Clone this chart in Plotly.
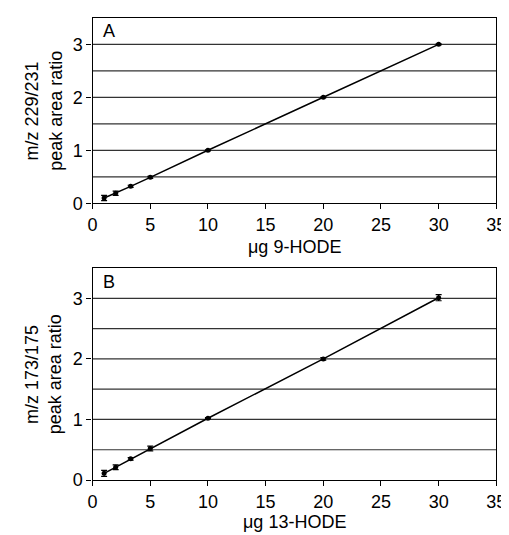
import plotly.graph_objects as go

amounts = [1, 2, 3.3, 5, 10, 20, 30]
ratio_a = [0.10, 0.19, 0.32, 0.49, 1.00, 2.00, 3.00]
err_a = [0.05, 0.04, 0.02, 0.02, 0.01, 0.01, 0.01]
ratio_b = [0.11, 0.21, 0.35, 0.52, 1.02, 2.00, 3.01]
err_b = [0.05, 0.04, 0.02, 0.04, 0.01, 0.02, 0.05]
x_ticks = [0, 5, 10, 15, 20, 25, 30, 35]
y_ticks = [0, 1, 2, 3]
x_titles = ["μg 9-HODE", "μg 13-HODE"]
y_titles = [["m/z 229/231", "peak area ratio"], ["m/z 173/175", "peak area ratio"]]
panel_letters = ["A", "B"]

W, H = 509, 535
font = dict(family="Liberation Sans, Arial, sans-serif", size=18, color="black")

fig = go.Figure()
for ys, es, xa, ya in [(ratio_a, err_a, "x", "y"), (ratio_b, err_b, "x2", "y2")]:
    fig.add_trace(go.Scatter(
        x=amounts, y=ys, mode="lines+markers",
        line=dict(color="black", width=1.5),
        marker=dict(color="black", size=5),
        error_y=dict(type="data", array=es, color="black", thickness=1.2, width=3),
        xaxis=xa, yaxis=ya, showlegend=False))

xdom = [82 / W, 498 / W]
ax_common = dict(showline=True, linecolor="black", linewidth=1.2, mirror=True,
                 ticks="outside", ticklen=5, tickcolor="black", zeroline=False,
                 tickfont=font, showgrid=False)
doms = [[1 - 199 / H, 1 - 10 / H], [1 - 481 / H, 1 - 265 / H]]
fig.update_layout(
    width=W, height=H, margin=dict(l=0, r=0, t=0, b=0),
    paper_bgcolor="white", plot_bgcolor="white", font=font,
    xaxis=dict(domain=xdom, anchor="y", range=[0, 35], tickvals=x_ticks, **ax_common),
    yaxis=dict(domain=doms[0], anchor="x", range=[0, 3.5], tickvals=y_ticks, **ax_common),
    xaxis2=dict(domain=xdom, anchor="y2", range=[0, 35], tickvals=x_ticks, **ax_common),
    yaxis2=dict(domain=doms[1], anchor="x2", range=[0, 3.5], tickvals=y_ticks, **ax_common),
)

grid_levels = [0.5, 1, 1.5, 2, 2.5, 3]
for xr, yr in [("x", "y"), ("x2", "y2")]:
    for g in grid_levels:
        fig.add_shape(type="line", xref=xr + " domain", yref=yr, x0=0, x1=1, y0=g, y1=g,
                      line=dict(color="#333333", width=1.2), layer="below")

xcenter = (82 + 498) / 2 / W
xtitle_y = [244, 524]
letter_pos = [(98.5, 23.5), (99, 279.5)]
for i in range(2):
    fig.add_annotation(text=x_titles[i], xref="paper", yref="paper", x=xcenter,
                       y=1 - xtitle_y[i] / H, xanchor="center", yanchor="middle",
                       showarrow=False, font=font)
    ymid = (doms[i][0] + doms[i][1]) / 2
    for j, px in enumerate([19.5, 43.5]):
        fig.add_annotation(text=y_titles[i][j], xref="paper", yref="paper", x=px / W,
                           y=ymid, xanchor="center", yanchor="middle", textangle=-90,
                           showarrow=False, font=font)
    lx, ly = letter_pos[i]
    fig.add_annotation(text=panel_letters[i], xref="paper", yref="paper", x=lx / W,
                       y=1 - ly / H, xanchor="center", yanchor="middle",
                       showarrow=False, font=font)

fig.write_html("out.html")
